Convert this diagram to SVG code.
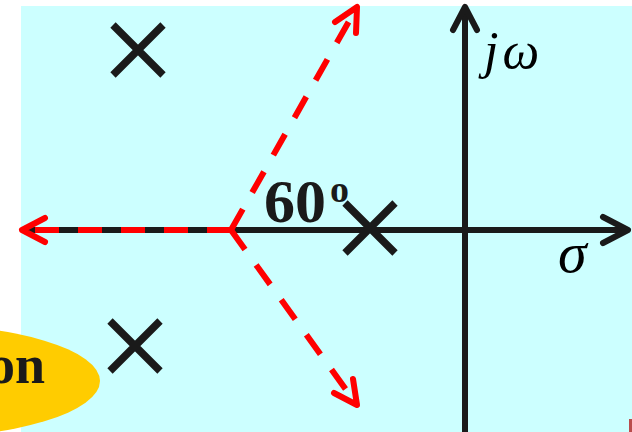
<svg xmlns="http://www.w3.org/2000/svg" width="632" height="432" viewBox="0 0 632 432">
<style>
.axis{stroke:#1a1a1a;stroke-width:6;fill:none}
.ahead{stroke:#1a1a1a;stroke-width:6;fill:none;stroke-linecap:round;stroke-linejoin:round}
.asym{stroke:#ff0000;stroke-width:6;fill:none;stroke-dasharray:24 19}
.rhead{stroke:#ff0000;stroke-width:6;fill:none;stroke-linecap:round;stroke-linejoin:round}
.pole{stroke:#1a1a1a;stroke-width:7.5;fill:none}
.math{font-family:"Liberation Serif","Times New Roman",serif;font-style:italic;fill:#000}
.bold{font-family:"Liberation Serif","Times New Roman",serif;font-weight:bold;fill:#1a1a1a}
</style>
<rect x="0" y="0" width="632" height="432" fill="#ffffff"/>
<rect x="21" y="6" width="611" height="426" fill="#ccffff"/>
<g id="callout">
<ellipse cx="-90" cy="381" rx="190" ry="57" fill="#ffcc00"/>
<text x="45" y="383" text-anchor="end" class="bold" font-size="54" fill="#000">on</text>
</g>
<g id="connectors">
<line class="axis" x1="21" y1="230" x2="626" y2="230"/>
<polyline class="ahead" points="603,217 628,230 603,243"/>
<line class="axis" x1="465" y1="432" x2="465" y2="9"/>
<polyline class="ahead" points="453,30 465,7 477,30"/>
<path class="asym" d="M231,230 L24,230"/>
<polyline class="rhead" points="45,218 22,230 45,242"/>
<path class="asym" d="M231,230 L357,7"/>
<polyline class="rhead" points="335,22 357,7 356,33"/>
<path class="asym" d="M231,230 L357,405"/>
<polyline class="rhead" points="353,379 357,405 334,393"/>
</g>
<g id="pole1"><path class="pole" d="M113,25 L163,75 M163,25 L113,75"/></g>
<g id="pole2"><path class="pole" d="M345,203 L395,253 M395,203 L345,253"/></g>
<g id="pole3"><path class="pole" d="M110,321 L160,371 M160,321 L110,371"/></g>
<g id="angle-label">
<text x="264" y="222" class="bold" font-size="62">60</text>
<text x="330" y="202" class="bold" font-size="38">o</text>
</g>
<g id="jw-label"><text x="484" y="68" class="math" font-size="52">j<tspan dx="4">ω</tspan></text></g>
<g id="sigma-label"><text x="558" y="272" class="math" font-size="58">σ</text></g>
<rect x="629" y="419" width="3" height="13" fill="#b00000" opacity="0.7"/>
</svg>
